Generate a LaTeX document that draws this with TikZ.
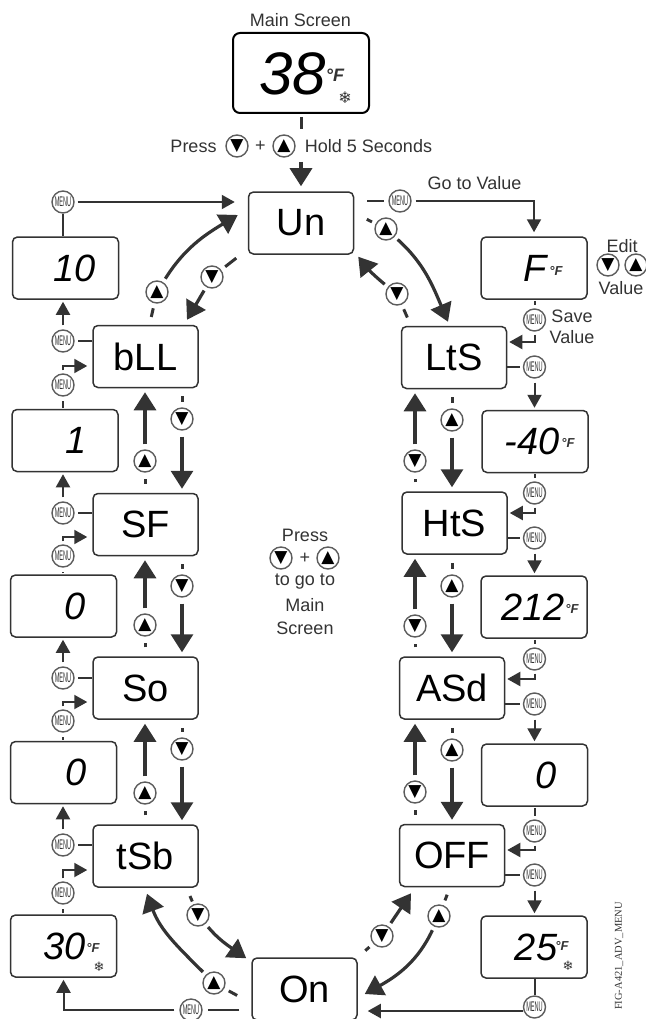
\documentclass[tikz,border=0pt]{standalone}
\usepackage{fontspec}
\usepackage{tikz}
\usetikzlibrary{calc}
\usetikzlibrary{arrows.meta}
\setmainfont{Liberation Sans}
\newfontfamily\dvfont{DejaVu Sans}
\newfontfamily\figfont{Liberation Serif}
\newcommand{\fsz}[1]{\fontsize{#1}{#1}\selectfont}
\newcommand{\menutxt}{\scalebox{.4}[1]{\fsz{14}MENU}}
\definecolor{inkgray}{gray}{.2}
\tikzset{
  optbox/.style={draw=inkgray, line width=1.5pt, rounded corners=5pt, fill=white, minimum width=105pt, minimum height=62pt, inner sep=0pt, font=\fsz{38}, text=black},
  valbox/.style={draw=inkgray, line width=1.5pt, rounded corners=5pt, fill=white, minimum width=106pt, minimum height=62pt, inner sep=0pt},
  valtxt/.style={inner sep=0pt, font=\fsz{38}\itshape, text=black},
  unit/.style={inner sep=0pt, font=\fsz{13}\bfseries\itshape, text=inkgray},
  snow/.style={inner sep=0pt, font=\dvfont\fsz{13}, text=inkgray},
  lbl/.style={inner sep=0pt, font=\fsz{18}, text=inkgray},
  btn/.style={circle, draw=inkgray!80, line width=1.4pt, fill=white, minimum size=22pt, inner sep=0pt},
  upbtn/.style={btn, font=\dvfont\fsz{17}, text=black},
  dnbtn/.style={btn, font=\dvfont\fsz{17}, text=black},
  menubtn/.style={btn, text=inkgray},
  stub/.style={draw=inkgray, line width=3pt},
  thinstub/.style={draw=inkgray, line width=2pt},
  bigarrow/.style={draw=inkgray, line width=3.2pt, -{Triangle[width=22pt,length=18pt]}},
  smallarrow/.style={draw=inkgray, line width=2pt, -{Triangle[width=14pt,length=13pt]}}
}

\begin{document}
\begin{tikzpicture}[x=1pt, y=-1pt]
\useasboundingbox (0,0) rectangle (645,1019);

\node[lbl] (mainlbl) at (300.5,20) {Main Screen};
\node[optbox, draw=black, line width=2pt, rounded corners=7pt, minimum width=136pt, minimum height=80pt] (Main) at (301,73) {};
\node[inner sep=0pt, font=\fsz{60}\itshape] (maintxt) at (293,74) {38};
\node[unit, font=\fsz{18}\bfseries\itshape] (mainunit) at (335,75) {°F};
\node[snow, font=\dvfont\fsz{16}] (mainsnow) at (345,98) {❄};

\foreach \nm/\cx/\cy in {Un/301/223, bLL/145.5/356.5, SF/145.5/524.5, So/145.5/688, tSb/145.5/856, On/304.5/989, LtS/454/357.5, HtS/454.5/523, ASd/452/688, OFF/452/855.5}
\node[optbox] (\nm) at (\cx,\cy) {\nm};

\foreach \nm/\cx/\cy/\val/\tx in {vTen/65.5/268/10/75, vOne/65/440.5/1/76, vZa/63.5/606/0/75, vZb/63.5/772.5/0/76, vTh/63.5/946/30/65, vF/534/268/F/535, vFour/535/441.5/-40/532, vTwo/534/607/212/533, vZc/534.5/775/0/546, vTf/534/947/25/536}
{
\node[valbox] (\nm) at (\cx,\cy) {};
\node[valtxt] (t\nm) at (\tx,\cy) {\val};
}

\foreach \nm/\cx/\cy in {uF/556/271, uFour/568/443, uTwo/572/609, uTh/93/948, uTf/562/946}
\node[unit] (\nm) at (\cx,\cy) {°F};
\node[snow] (sTh) at (99,967) {❄};
\node[snow] (sTf) at (568,966) {❄};

\coordinate (holdrow) at (301,146);
\draw[stub, shorten <=3pt, shorten >=17pt] (Main.south) -- (holdrow);
\draw[bigarrow, shorten <=16pt, shorten >=5pt] (holdrow) -- (Un.north);
\node[lbl] (holdpress) at (193.5,146) {Press};
\node[dnbtn] (holddn) at (237,146) {▼};
\node[lbl] (holdplus) at (260.5,146) {+};
\node[upbtn] (holdup) at (284,146) {▲};
\node[lbl] (holdsec) at (368.5,146) {Hold 5 Seconds};

\node[lbl] (gopress) at (305,535) {Press};
\node[dnbtn] (godn) at (281,558) {▼};
\node[lbl] (goplus) at (305,558) {+};
\node[upbtn] (goup) at (328,558) {▲};
\node[lbl] (gotxt) at (305,582) {to go to};
\node[lbl] (gomain) at (305,605) {Main};
\node[lbl] (goscreen) at (305,628) {Screen};

\foreach \bx/\vo/\vi/\yo/\yi/\ye in {bLL/vTen/vOne/341/385/366, SF/vOne/vZa/513/556/537, So/vZa/vZb/678/721/702, tSb/vZb/vTh/845/893/870}
{
\node[menubtn] (mo\bx) at (63,\yo) {\menutxt};
\node[menubtn] (mi\bx) at (63,\yi) {\menutxt};
\draw[thinstub, shorten >=3pt] (\bx.west |- mo\bx) -- (mo\bx);
\draw[smallarrow, shorten <=4pt, shorten >=2pt] (mo\bx) -- (mo\bx |- \vo.south);
\draw[thinstub, shorten <=1pt, shorten >=4pt] (\vi.north -| mi\bx) -- (mi\bx);
\draw[smallarrow, shorten <=3pt, shorten >=5pt] (mi\bx) |- (\bx.west |- 0,\ye);
}

\foreach \bx/\vi/\vo/\yi/\ye/\yo in {LtS/vF/vFour/320/342/367, HtS/vFour/vTwo/493/513/538, ASd/vTwo/vZc/659/679/704, OFF/vZc/vTf/831/850/875}
{
\node[menubtn] (mi\bx) at (534.5,\yi) {\menutxt};
\node[menubtn] (mo\bx) at (534.5,\yo) {\menutxt};
\draw[thinstub, shorten <=1pt, shorten >=3pt] (\vi.south -| mi\bx) -- (mi\bx);
\draw[smallarrow, shorten <=3pt, shorten >=2pt] (mi\bx) |- (\bx.east |- 0,\ye);
\draw[thinstub, shorten >=3pt] (\bx.east |- mo\bx) -- (mo\bx);
\draw[smallarrow, shorten <=4pt, shorten >=2pt] (mo\bx) -- (mo\bx |- \vo.north);
}

\foreach \bxa/\bxb/\yu/\yd in {bLL/SF/461/419, SF/So/625/586, So/tSb/793/749}
{
\node[upbtn] (u\bxa) at (145,\yu) {▲};
\node[dnbtn] (d\bxa) at (182,\yd) {▼};
\draw[stub, shorten <=9pt, shorten >=6pt] (\bxb.north -| u\bxa) -- (u\bxa);
\draw[bigarrow, shorten <=5pt, shorten >=4pt] (u\bxa) -- (u\bxa |- \bxa.south);
\draw[stub, shorten <=8pt, shorten >=5pt] (\bxa.south -| d\bxa) -- (d\bxa);
\draw[bigarrow, shorten <=6pt, shorten >=4pt] (d\bxa) -- (d\bxa |- \bxb.north);
}

\foreach \bxa/\bxb/\yu/\yd in {LtS/HtS/420/461, HtS/ASd/586/626, ASd/OFF/750/792}
{
\node[upbtn] (u\bxa) at (452,\yu) {▲};
\node[dnbtn] (d\bxa) at (415,\yd) {▼};
\draw[stub, shorten <=8pt, shorten >=5pt] (\bxa.south -| u\bxa) -- (u\bxa);
\draw[bigarrow, shorten <=6pt, shorten >=4pt] (u\bxa) -- (u\bxa |- \bxb.north);
\draw[stub, shorten <=9pt, shorten >=6pt] (\bxb.north -| d\bxa) -- (d\bxa);
\draw[bigarrow, shorten <=5pt, shorten >=4pt] (d\bxa) -- (d\bxa |- \bxa.south);
}

\node[menubtn] (mTop) at (63,202) {\menutxt};
\draw[thinstub] (vTen.north -| mTop) -- (mTop);
\draw[smallarrow, shorten <=3pt, shorten >=13pt] (mTop) -- (Un.west |- mTop);

\node[menubtn] (mGo) at (400,201) {\menutxt};
\node[lbl] (golbl) at (474.5,183) {Go to Value};
\draw[thinstub, shorten <=13pt, shorten >=4pt] (Un.east |- mGo) -- (mGo);
\draw[smallarrow, shorten <=4pt, shorten >=4pt] (mGo) -| (vF.north);

\node[lbl] (editlbl) at (622,246) {Edit};
\node[dnbtn] (editdn) at (608,265) {▼};
\node[upbtn] (editup) at (636,265) {▲};
\node[lbl] (editval) at (621,288) {Value};
\node[lbl] (savelbl) at (572,316) {Save};
\node[lbl] (saveval) at (572,337) {Value};

\node[menubtn] (mTf) at (534.5,1007) {\menutxt};
\draw[thinstub] (vTf.south -| mTf) -- (mTf);
\draw[smallarrow, shorten >=10pt] ($(mTf.west)+(0,4)$) -- (On.east |- 0,1011);

\node[menubtn] (mOn) at (191,1010) {\menutxt};
\draw[thinstub, shorten <=12pt, shorten >=5pt] (On.west |- mOn) -- (mOn);
\draw[smallarrow, shorten <=5pt, shorten >=2pt] (mOn) -| (vTh.south);

\node[upbtn] (uTL) at (157,292) {▲};
\draw[stub, shorten <=8pt, shorten >=5pt] ($(bLL.north)+(4,0)$) -- (uTL);
\draw[bigarrow, shorten <=4pt] (uTL) to[out=58, in=211] ($(Un.west)+(-10,-8)$);

\node[dnbtn] (dTL) at (212,277) {▼};
\draw[stub, shorten <=12pt, shorten >=5pt] ($(Un.south west)+(-2,-4)$) -- (dTL);
\draw[bigarrow, shorten <=4pt] (dTL) -- ($(bLL.north)+(41.5,-5)$);

\node[upbtn] (uTR) at (386,229) {▲};
\draw[stub, shorten <=14pt, shorten >=4pt] ($(Un.east)+(0,-10)$) -- (uTR);
\draw[bigarrow, shorten <=4pt] (uTR) to[out=-42, in=113] ($(LtS.north)+(-6,-4)$);

\node[dnbtn] (dTR) at (397,294) {▼};
\draw[stub, shorten <=9pt, shorten >=5pt] ($(LtS.north)+(-43,0)$) -- (dTR);
\draw[bigarrow, shorten <=4pt] (dTR) to[bend left=6] ($(Un.south east)+(4,2)$);

\node[dnbtn] (dBL) at (198,915) {▼};
\draw[stub, shorten <=9pt, shorten >=3pt] ($(tSb.south)+(41,0)$) -- (dBL);
\draw[bigarrow, shorten <=4pt] (dBL) to[out=-50, in=145] ($(On.north west)+(-5,1)$);

\node[upbtn] (uBL) at (214,983) {▲};
\draw[stub, shorten <=16pt, shorten >=5pt] ($(On.west)+(0,14)$) -- (uBL);
\draw[bigarrow, shorten <=4pt] (uBL) to[out=135, in=-70] ($(tSb.south)+(1.5,6)$);

\node[dnbtn] (dBR) at (382,936) {▼};
\draw[stub, shorten <=10pt, shorten >=5pt] (On.north east) -- (dBR);
\draw[bigarrow, shorten <=4pt] (dBR) -- ($(OFF.south)+(-41,6)$);

\node[upbtn] (uBR) at (439,916) {▲};
\draw[stub, shorten <=8pt, shorten >=5pt] ($(OFF.south)+(-2,0)$) -- (uBR);
\draw[bigarrow, shorten <=4pt] (uBR) to[out=-115, in=29] ($(On.east)+(7,5)$);

\node[rotate=90, inner sep=0pt, font=\figfont\fsz{10.5}, text=inkgray] (figlbl) at (619,956) {FIG-A421\_ADV\_MENU};

\end{tikzpicture}
\end{document}
